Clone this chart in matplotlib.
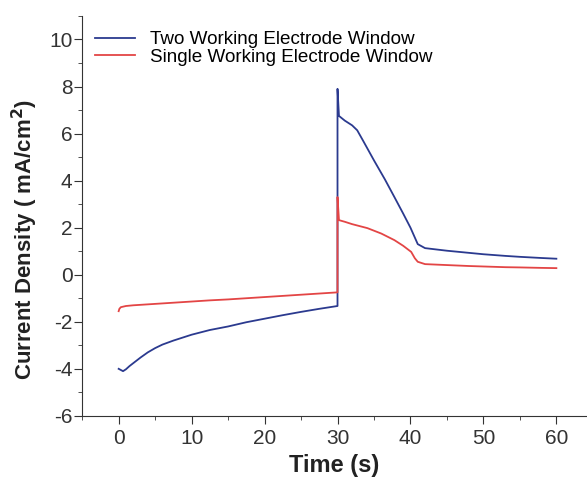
import matplotlib.pyplot as plt
from matplotlib.ticker import MultipleLocator

plt.rcParams['font.family'] = ['Liberation Sans', 'DejaVu Sans']
plt.rcParams['axes.unicode_minus'] = False

# Two working electrode window
t_two = [0, 0.3, 0.6, 1, 1.5, 2, 3, 4, 5, 6, 7.5, 10, 12.5, 15, 17.5, 20, 22.5, 25, 27.5, 30,
         30, 30.2, 31, 32, 32.7, 33.5, 35, 36.5, 37.8, 39, 40, 41, 42,
         45, 48, 50, 53, 55, 58, 60]
j_two = [-4.0, -4.05, -4.1, -4.02, -3.88, -3.76, -3.52, -3.3, -3.12, -2.97, -2.8, -2.55, -2.35, -2.2, -2.02, -1.87, -1.72, -1.58, -1.45, -1.33,
         7.9, 6.75, 6.55, 6.35, 6.14, 5.7, 4.86, 4.05, 3.3, 2.6, 2.0, 1.3, 1.13,
         1.02, 0.93, 0.87, 0.8, 0.76, 0.71, 0.68]

# Single working electrode window
t_one = [0, 0.1, 0.3, 1, 2, 3, 5, 7.5, 10, 12.5, 15, 17.5, 20, 22.5, 25, 27.5, 30,
         30, 30.2, 31, 32, 34.1, 36, 37.8, 39, 40.1, 40.6, 41, 42,
         45, 48, 50, 53, 55, 58, 60]
j_one = [-1.55, -1.45, -1.38, -1.33, -1.3, -1.28, -1.24, -1.19, -1.14, -1.09, -1.05, -1.0, -0.95, -0.9, -0.85, -0.8, -0.75,
         3.3, 2.32, 2.25, 2.15, 1.98, 1.75, 1.47, 1.23, 0.97, 0.7, 0.55, 0.45,
         0.41, 0.37, 0.35, 0.32, 0.31, 0.29, 0.28]

fig = plt.figure(figsize=(5.87, 4.83), dpi=100)
ax = fig.add_axes([0.14, 0.139, 0.86, 0.828])

ax.plot(t_two, j_two, color='#2b3a8f', lw=1.3, label='Two Working Electrode Window')
ax.plot(t_one, j_one, color='#e34545', lw=1.3, label='Single Working Electrode Window')

ax.set_xlim(-5, 64.2)
ax.set_ylim(-6, 11)
ax.set_xticks(range(0, 61, 10))
ax.set_yticks(range(-6, 11, 2))
ax.xaxis.set_minor_locator(MultipleLocator(5))
ax.yaxis.set_minor_locator(MultipleLocator(1))
ax.tick_params(which='major', direction='out', length=5.5, labelsize=15, colors='#333333')
ax.tick_params(axis='y', which='major', pad=1.5)
ax.tick_params(axis='x', which='major', pad=4)
ax.tick_params(which='minor', direction='out', length=3, colors='#333333')

for s in ['top', 'right']:
    ax.spines[s].set_visible(False)
for s in ['left', 'bottom']:
    ax.spines[s].set_color('#333333')

ax.set_xlabel('Time (s)', fontsize=17, fontweight='bold', color='#222222', labelpad=4)
ax.set_ylabel('Current Density ( mA/cm$^\\mathbf{2}$)', fontsize=16, fontweight='bold',
              color='#222222')
ax.yaxis.set_label_coords(-0.084, 0.44)

ax.legend(loc='upper left', frameon=False, fontsize=13.6, handlelength=2.1,
          borderaxespad=0.3, labelspacing=0.0, bbox_to_anchor=(0.0, 0.995))

fig.savefig('out.png', dpi=100)
